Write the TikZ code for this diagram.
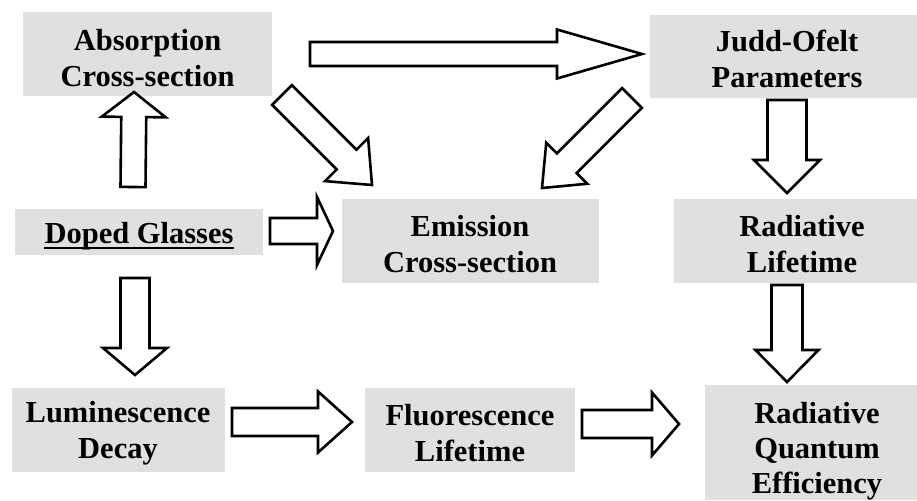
\documentclass[tikz,border=0pt]{standalone}
\usepackage{fontspec}
\setmainfont{Liberation Serif}
\usetikzlibrary{calc}
\definecolor{boxgray}{RGB}{224,224,224}
\tikzset{
  box/.style={fill=boxgray, draw=none, inner sep=0pt, rectangle},
  txt/.style={inner sep=0pt, align=center, font=\bfseries\fontsize{30.5}{36}\selectfont},
  barr/.style={draw=black, fill=white, line width=2.6pt, line join=miter}
}
% #1 tail, #2 tip, #3 half shaft width, #4 half head width, #5 head length
\newcommand\blockarrow[5]{%
  \path ($(#2)!#5!(#1)$) coordinate (bh);
  \draw[barr] ($(#1)!#3!90:(#2)$) -- ($(bh)!#3!90:(#2)$) -- ($(bh)!#4!90:(#2)$) -- (#2)
     -- ($(bh)!#4!-90:(#2)$) -- ($(bh)!#3!-90:(#2)$) -- ($(#1)!#3!-90:(#2)$) -- cycle;}
\begin{document}
\begin{tikzpicture}[x=1pt,y=-1pt]
\useasboundingbox (0,0) rectangle (917,500);
% boxes
\node[box, minimum width=249pt, minimum height=84pt] (abs) at (147.5,54) {};
\node[box, minimum width=248pt, minimum height=46pt] (dop) at (139,232) {};
\node[box, minimum width=257pt, minimum height=84pt] (emi) at (470.5,241) {};
\node[box, minimum width=267pt, minimum height=83pt] (jud) at (783.5,56.5) {};
\node[box, minimum width=243pt, minimum height=84pt] (rad) at (795.5,241) {};
\node[box, minimum width=213pt, minimum height=84pt] (lum) at (118.5,430) {};
\node[box, minimum width=210pt, minimum height=84pt] (flu) at (470,430) {};
\node[box, minimum width=212pt, minimum height=115pt] (rqe) at (811,442.5) {};
% texts
\node[txt] (absT) at (147.5,58) {Absorption\\Cross-section};
\node[txt, anchor=base] (dopT) at (139,243) {Doped Glasses};
\draw[line width=2pt] ([yshift=-5pt]dopT.base west) -- ([yshift=-5pt]dopT.base east);
\node[txt] (emiT) at (470,244) {Emission\\Cross-section};
\node[txt] (judT) at (787,59) {Judd-Ofelt\\Parameters};
\node[txt] (radT) at (802,244) {Radiative\\Lifetime};
\node[txt] (lumT) at (118,433) {Luminescence\\Decay};
\node[txt] (fluT) at (470,433) {Fluorescence\\Lifetime};
\node[txt, font=\bfseries\fontsize{30.5}{35}\selectfont] (rqeT) at (817,451) {Radiative\\Quantum\\Efficiency};
% arrow end points
\coordinate (a1s) at (310,54);  \coordinate (a1e) at (642,54);
\coordinate (a2s) at (133,187); \coordinate (a2e) at (134,92);
\coordinate (a3s) at (282,95);  \coordinate (a3e) at (372,185);
\coordinate (a4s) at (632,98);  \coordinate (a4e) at (542,188);
\coordinate (a5s) at (270,231); \coordinate (a5e) at (333,231);
\coordinate (a6s) at (135,278); \coordinate (a6e) at (135,375);
\coordinate (a7s) at (232,422); \coordinate (a7e) at (352,422);
\coordinate (a8s) at (582,424); \coordinate (a8e) at (679,424);
\coordinate (a9s) at (787,100); \coordinate (a9e) at (787,193);
\coordinate (a10s) at (787,285); \coordinate (a10e) at (787,382);
% arrows
\blockarrow{a1s}{a1e}{12pt}{24.5pt}{85pt}
\blockarrow{a2s}{a2e}{12.5pt}{32pt}{25pt}
\blockarrow{a3s}{a3e}{14pt}{30.5pt}{36pt}
\blockarrow{a4s}{a4e}{14pt}{29pt}{35pt}
\blockarrow{a5s}{a5e}{13pt}{34pt}{16pt}
\blockarrow{a6s}{a6e}{14.5pt}{32pt}{27pt}
\blockarrow{a7s}{a7e}{14pt}{30.5pt}{34pt}
\blockarrow{a8s}{a8e}{14pt}{31.5pt}{27pt}
\blockarrow{a9s}{a9e}{19.5pt}{33pt}{33pt}
\blockarrow{a10s}{a10e}{15.5pt}{31.5pt}{32pt}
\end{tikzpicture}
\end{document}
